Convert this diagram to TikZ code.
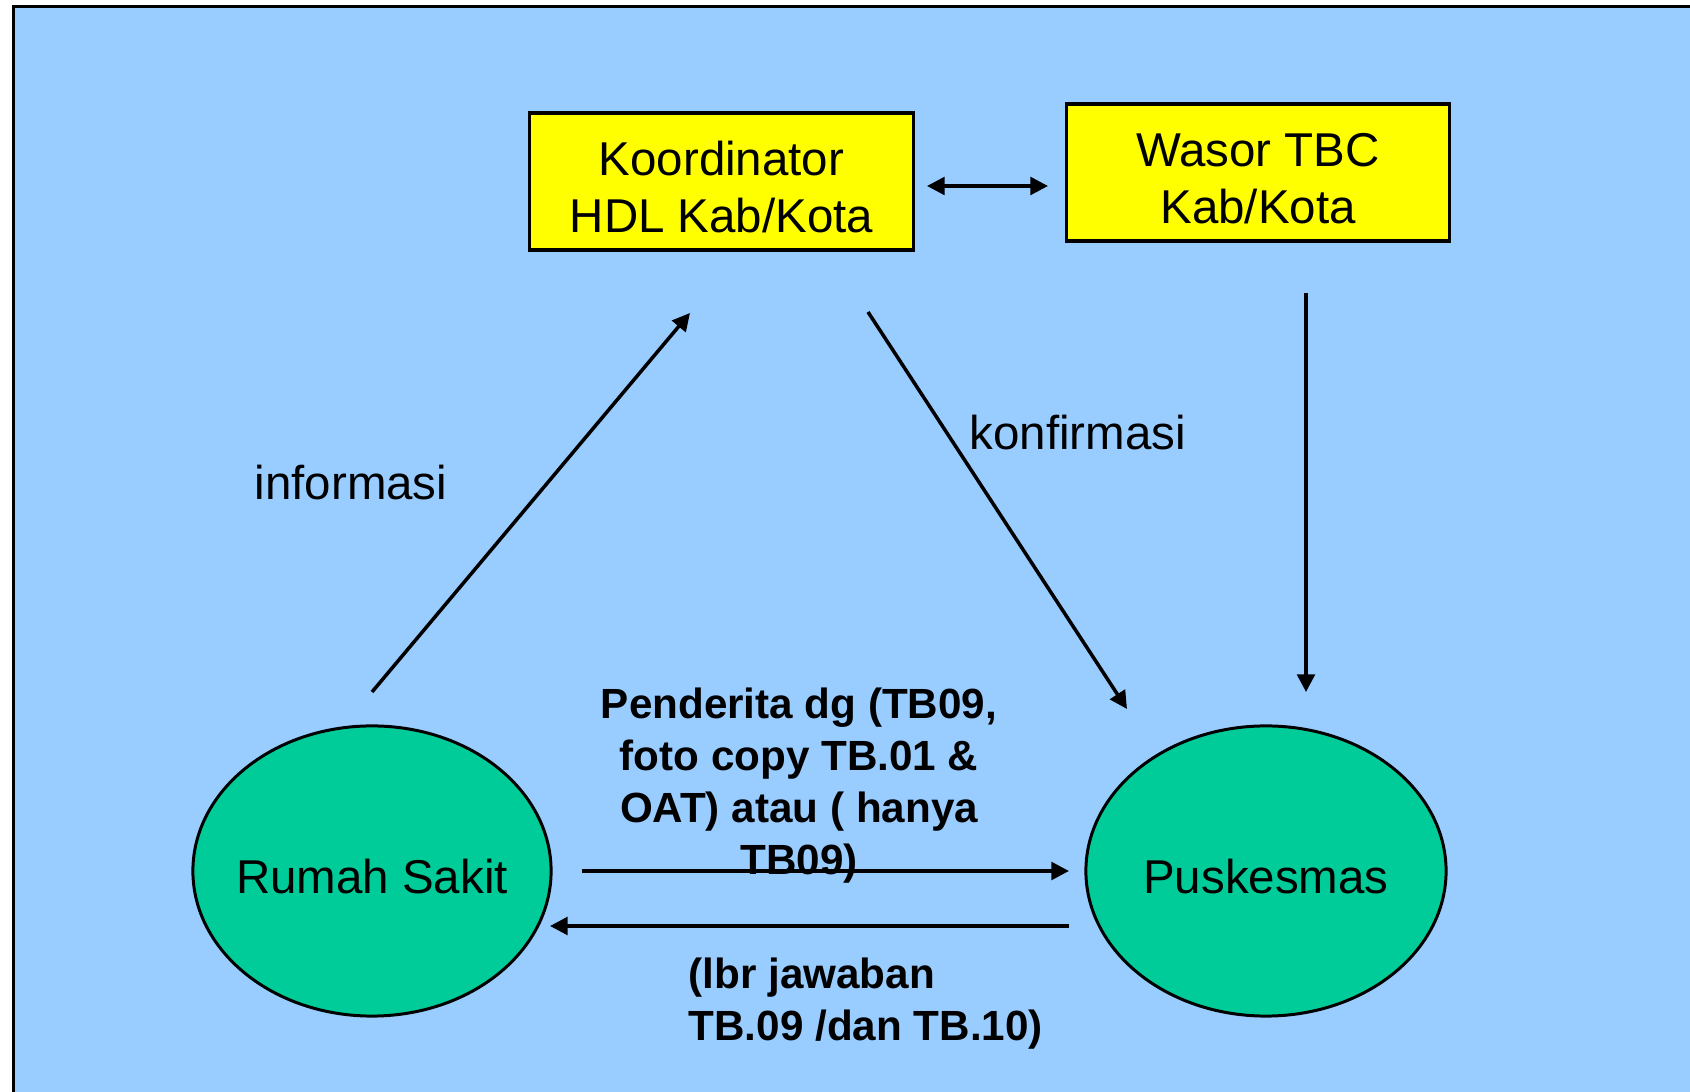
\documentclass[tikz,border=0pt]{standalone}
\usepackage{fontspec}
\setmainfont{Liberation Sans}
\usetikzlibrary{shapes.geometric,arrows.meta}
\definecolor{bgblue}{HTML}{99CCFF}
\definecolor{boxyellow}{HTML}{FFFF00}
\definecolor{ovalgreen}{HTML}{00CC99}
% extra room above the first line so the text sits a little low in its box
\newcommand{\topgap}{\rule{0pt}{12.8pt}}

\begin{document}
\begin{tikzpicture}[x=0.01cm,y=-0.01cm,
  unitbox/.style={draw=black, line width=0.9pt, fill=boxyellow, align=center,
    font=\fontsize{13.5}{16.2}\selectfont, inner sep=0pt},
  site/.style={ellipse, draw=black, line width=0.85pt, fill=ovalgreen,
    inner sep=-20pt, font=\fontsize{13.5}{16.2}\selectfont,
    execute at begin node={\rule{0pt}{13.1pt}}},
  flow/.style={line width=1pt, -{Triangle[length=5pt,width=5pt]}},
  twoway/.style={line width=1pt, {Triangle[length=5pt,width=5pt]}-{Triangle[length=5pt,width=5pt]}},
  tag/.style={font=\fontsize{13.5}{16.2}\selectfont, inner sep=0pt, anchor=base west},
  docs/.style={font=\bfseries\fontsize{12}{14.8}\selectfont, inner sep=0pt}]

\useasboundingbox (0,0) rectangle (1690,1092);
% slide background with its frame
\begin{scope}
  \clip (0,0) rectangle (1690,1092);
  \fill[white] (0,0) rectangle (1690,1092);
  \draw[line width=0.85pt, fill=bgblue] (13.5,7) rectangle (1720,1120);
\end{scope}

% units
\node[unitbox, minimum width=3.83cm, minimum height=1.37cm] (hdl) at (721.5,181.5) {\topgap Koordinator\\HDL Kab/Kota};
\node[unitbox, minimum width=3.82cm, minimum height=1.37cm] (wasor) at (1258,172.5) {\topgap Wasor TBC\\Kab/Kota};
\node[site, minimum width=3.58cm, minimum height=2.9cm] (rs) at (372,871) {Rumah Sakit};
\node[site, minimum width=3.6cm, minimum height=2.9cm] (pkm) at (1266,871) {Puskesmas};

% arrow end points
\coordinate (linkL) at (927,186);
\coordinate (linkR) at (1048,186);
\coordinate (infoA) at (372,692);
\coordinate (infoB) at (690,313);
\coordinate (konfA) at (868,312);
\coordinate (konfB) at (1127,709);
\coordinate (wasA) at (1306,293);
\coordinate (wasB) at (1306,692);
\coordinate (refA) at (582,871);
\coordinate (refB) at (1069,871);
\coordinate (backA) at (1069,926);
\coordinate (backB) at (550,926);

% labels
\node[tag] (info) at (254,500) {informasi};
\node[tag] (konf) at (969,450) {konfirmasi};
\node[docs, align=center] (send) at (799,786) {Penderita dg (TB09,\\ foto copy TB.01 \&\\OAT) atau ( hanya\\TB09)};
\node[docs, align=left, anchor=west] (reply) at (688,1003.5) {(lbr jawaban\\TB.09 /dan TB.10)};

% connectors
\draw[twoway] (linkL) -- (linkR);
\draw[flow] (infoA) -- (infoB);
\draw[flow] (konfA) -- (konfB);
\draw[flow] (wasA) -- (wasB);
\draw[flow] (refA) -- (refB);
\draw[flow] (backA) -- (backB);
\end{tikzpicture}
\end{document}
